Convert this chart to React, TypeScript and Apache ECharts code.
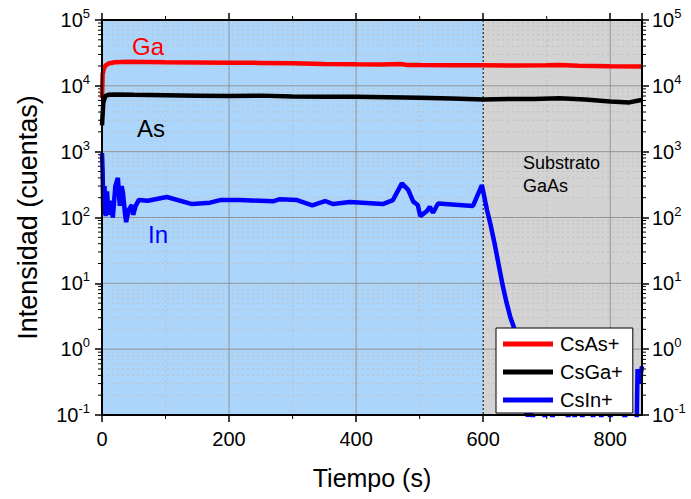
import React, { useEffect, useRef } from 'react';
import * as echarts from 'echarts';

const FONT = '"Liberation Sans", Arial, Helvetica, sans-serif';

// ---- axis definitions ----
const X_MIN = 0;
const X_MAX = 850;
const X_STEP = 200;
const SUBSTRATE_START = 600;
const Y_MIN = 0.1;
const Y_MAX = 100000;
const xMajorTicks = [200, 400, 600, 800];
const xMinorTicks = [100, 300, 500, 700];
const yDecades = [0.1, 1, 10, 100, 1000, 10000, 100000];
const yMinorFactors = [2, 3, 4, 5, 6, 7, 8, 9];

// ---- series data ----
const seriesNames = ['CsAs+', 'CsGa+', 'CsIn+'];

// red (Ga)
const gaTime = [0, 1, 3, 6, 10, 20, 40, 70, 100, 150, 200, 250, 300, 350, 400, 440, 470, 480, 500, 550, 600, 650, 700, 720, 750, 800, 850];
const gaValues = [6500, 15000, 18500, 20500, 21800, 22800, 23200, 23000, 22800, 22700, 22500, 22300, 22000, 21500, 21200, 21000, 21500, 20800, 20700, 20600, 20500, 20400, 20500, 20800, 20200, 19800, 19600];

// black (As)
const asTime = [0, 2, 5, 10, 20, 50, 100, 150, 200, 250, 300, 350, 400, 450, 500, 550, 600, 640, 680, 720, 760, 800, 830, 845, 850];
const asValues = [2500, 5500, 7000, 7300, 7400, 7300, 7200, 7100, 7000, 7100, 6900, 6800, 6800, 6700, 6600, 6400, 6200, 6300, 6300, 6500, 6200, 5800, 5600, 6000, 6100];

// blue (In)
const inTime = [0, 1, 2, 4, 6, 8, 10, 13, 17, 21, 25, 28, 31, 33, 36, 38, 42, 47, 49, 53, 58, 72, 102, 142, 170, 186, 217, 269, 280, 307, 331, 351, 364, 390, 442, 458, 472, 482, 490, 497, 501, 512, 516, 521, 529, 584, 598, 606, 612, 618, 624, 631, 637, 643, 648, 655, 660, 664, 668, 678, 689, 697, 703, 709, 720, 734, 739, 744, 750, 756, 765, 773, 780, 786, 792, 800, 812, 823, 834, 841, 843, 846, 850];
const inValues = [950, 500, 110, 300, 105, 250, 110, 180, 100, 300, 400, 150, 300, 235, 120, 85, 130, 155, 110, 150, 185, 180, 205, 160, 168, 184, 184, 176, 190, 184, 153, 178, 160, 172, 160, 184, 330, 263, 174, 155, 105, 127, 146, 118, 163, 150, 310, 130, 75, 40, 20, 9, 5, 3, 2.2, 1.2, 0.6, 0.25, 0.1, 0.1, 0.03, 0.1, 0.03, 0.1, 0.03, 0.1, 0.03, 0.1, 0.03, 0.1, 0.03, 0.1, 0.03, 0.1, 0.03, 0.1, 0.03, 0.1, 0.03, 0.03, 0.5, 0.3, 0.55];

const zip = (t: number[], v: number[]) => t.map((x, i) => [x, v[i]]);

const BLUE_BG = '#abd5fb';
const GRAY_BG = '#d3d3d3';
const MAJOR_GRID = '#949494';
const MINOR_GRID = '#c0c0c0';

function buildOption() {
  const yMinor: number[] = [];
  yDecades.slice(0, -1).forEach((d) => yMinorFactors.forEach((k) => yMinor.push(d * k)));

  const labelFormatter = (v: number) => {
    const e = Math.round(Math.log10(v));
    return `{b|10}{s|${e}}`;
  };
  const rich = {
    b: { fontSize: 20, fontFamily: FONT, color: '#000', lineHeight: 26 },
    s: { fontSize: 13, fontFamily: FONT, color: '#000', verticalAlign: 'top', lineHeight: 14 },
  };

  const commonTick = { show: true, length: 7, inside: false, lineStyle: { color: '#000', width: 1.5 } };
  const commonLine = { show: true, onZero: false, lineStyle: { color: '#000', width: 2 } };

  const frameSeries = {
    type: 'custom',
    name: 'frame',
    silent: true,
    z: 1,
    data: [[X_MIN, 1]],
    encode: { x: 0, y: 1 },
    renderItem: (_params: any, api: any) => {
      const p = (x: number, y: number) => api.coord([x, y]);
      const [x0, yb] = p(X_MIN, Y_MIN);
      const [x1, yt] = p(X_MAX, Y_MAX);
      const xs = p(SUBSTRATE_START, Y_MIN)[0];
      const children: any[] = [];
      children.push({ type: 'rect', shape: { x: x0, y: yt, width: xs - x0, height: yb - yt }, style: { fill: BLUE_BG } });
      children.push({ type: 'rect', shape: { x: xs, y: yt, width: x1 - xs, height: yb - yt }, style: { fill: GRAY_BG } });
      // minor grid (dotted)
      yMinor.forEach((v) => {
        const y = p(X_MIN, v)[1];
        children.push({ type: 'line', shape: { x1: x0, y1: y, x2: x1, y2: y }, style: { stroke: MINOR_GRID, lineWidth: 1, lineDash: [2, 3] } });
      });
      xMinorTicks.forEach((t) => {
        const x = p(t, Y_MIN)[0];
        children.push({ type: 'line', shape: { x1: x, y1: yt, x2: x, y2: yb }, style: { stroke: MINOR_GRID, lineWidth: 1, lineDash: [2, 3] } });
      });
      // major grid
      yDecades.slice(1, -1).forEach((v) => {
        const y = p(X_MIN, v)[1];
        children.push({ type: 'line', shape: { x1: x0, y1: y, x2: x1, y2: y }, style: { stroke: MAJOR_GRID, lineWidth: 1 } });
      });
      xMajorTicks.forEach((t) => {
        if (t === SUBSTRATE_START) return;
        const x = p(t, Y_MIN)[0];
        children.push({ type: 'line', shape: { x1: x, y1: yt, x2: x, y2: yb }, style: { stroke: MAJOR_GRID, lineWidth: 1 } });
      });
      // substrate boundary (dashed)
      children.push({ type: 'line', shape: { x1: xs, y1: yt, x2: xs, y2: yb }, style: { stroke: '#000', lineWidth: 1, lineDash: [2, 2] } });
      // minor ticks on all sides
      yMinor.forEach((v) => {
        const y = p(X_MIN, v)[1];
        children.push({ type: 'line', shape: { x1: x0 - 4, y1: y, x2: x0, y2: y }, style: { stroke: '#000', lineWidth: 1 } });
        children.push({ type: 'line', shape: { x1: x1, y1: y, x2: x1 + 4, y2: y }, style: { stroke: '#000', lineWidth: 1 } });
      });
      xMinorTicks.forEach((t) => {
        const x = p(t, Y_MIN)[0];
        children.push({ type: 'line', shape: { x1: x, y1: yb, x2: x, y2: yb + 4 }, style: { stroke: '#000', lineWidth: 1 } });
        children.push({ type: 'line', shape: { x1: x, y1: yt - 4, x2: x, y2: yt }, style: { stroke: '#000', lineWidth: 1 } });
      });
      return { type: 'group', children };
    },
  };

  const lineSeries = (name: string, color: string, data: number[][]) => ({
    type: 'line',
    name,
    data,
    z: 3,
    color,
    showSymbol: false,
    symbol: 'none',
    lineStyle: { color, width: 4.5 },
    itemStyle: { color },
    clip: true,
  });

  return {
    animation: false,
    grid: { left: 102, right: 49, top: 20, bottom: 84, containLabel: false },
    legend: {
      data: seriesNames,
      orient: 'vertical',
      left: 496,
      top: 328,
      icon: 'rect',
      itemWidth: 50,
      itemHeight: 5,
      itemGap: 8,
      padding: [6, 10, 3, 7],
      backgroundColor: '#fff',
      borderColor: '#000',
      borderWidth: 1,
      borderRadius: 0,
      textStyle: { fontSize: 20, fontFamily: FONT, color: '#000', padding: [0, 0, 0, 2] },
      z: 10,
    },
    xAxis: [
      {
        type: 'value', position: 'bottom', min: X_MIN, max: X_MAX, interval: X_STEP, z: 4,
        axisLine: commonLine, axisTick: commonTick, splitLine: { show: false },
        axisLabel: { fontSize: 20, fontFamily: FONT, color: '#000', margin: 14, showMaxLabel: false },
        name: 'Tiempo (s)', nameLocation: 'middle', nameGap: 50,
        nameTextStyle: { fontSize: 25, fontFamily: FONT, color: '#000' },
      },
      {
        type: 'value', position: 'top', min: X_MIN, max: X_MAX, interval: X_STEP, z: 4,
        axisLine: commonLine, axisTick: commonTick, splitLine: { show: false },
        axisLabel: { show: false },
      },
    ],
    yAxis: [
      {
        type: 'log', logBase: 10, position: 'left', min: Y_MIN, max: Y_MAX, z: 4,
        axisLine: commonLine, axisTick: commonTick, splitLine: { show: false }, minorTick: { show: false },
        axisLabel: { formatter: labelFormatter, rich, margin: 12 },
        name: 'Intensidad (cuentas)', nameLocation: 'middle', nameGap: 61,
        nameTextStyle: { fontSize: 27, fontFamily: FONT, color: '#000' },
      },
      {
        type: 'log', logBase: 10, position: 'right', min: Y_MIN, max: Y_MAX, z: 4,
        axisLine: commonLine, axisTick: commonTick, splitLine: { show: false },
        axisLabel: { formatter: labelFormatter, rich, margin: 10 },
      },
    ],
    graphic: [
      { type: 'text', x: 148, y: 46, z: 20, style: { text: 'Ga', fill: '#ff0000', fontSize: 24, fontFamily: FONT, align: 'center', verticalAlign: 'middle' } },
      { type: 'text', x: 151, y: 128, z: 20, style: { text: 'As', fill: '#000', fontSize: 24, fontFamily: FONT, align: 'center', verticalAlign: 'middle' } },
      { type: 'text', x: 158, y: 234, z: 20, style: { text: 'In', fill: '#0000ff', fontSize: 24, fontFamily: FONT, align: 'center', verticalAlign: 'middle' } },
      { type: 'text', x: 523, y: 163, z: 20, style: { text: 'Substrato', fill: '#000', fontSize: 18, fontFamily: FONT, align: 'left', verticalAlign: 'middle' } },
      { type: 'text', x: 523, y: 186, z: 20, style: { text: 'GaAs', fill: '#000', fontSize: 18, fontFamily: FONT, align: 'left', verticalAlign: 'middle' } },
    ],
    series: [
      frameSeries,
      lineSeries(seriesNames[0], '#ff0000', zip(gaTime, gaValues)),
      lineSeries(seriesNames[1], '#000000', zip(asTime, asValues)),
      lineSeries(seriesNames[2], '#0000ff', zip(inTime, inValues)),
    ],
  };
}

export default function App() {
  const ref = useRef<HTMLDivElement>(null);
  useEffect(() => {
    if (!ref.current) return;
    const chart = echarts.init(ref.current, undefined, { renderer: 'svg' });
    chart.setOption(buildOption() as any);
    return () => chart.dispose();
  }, []);
  return <div ref={ref} style={{ width: 691, height: 499, position: 'absolute', left: 0, top: 0, background: '#fff' }} />;
}
